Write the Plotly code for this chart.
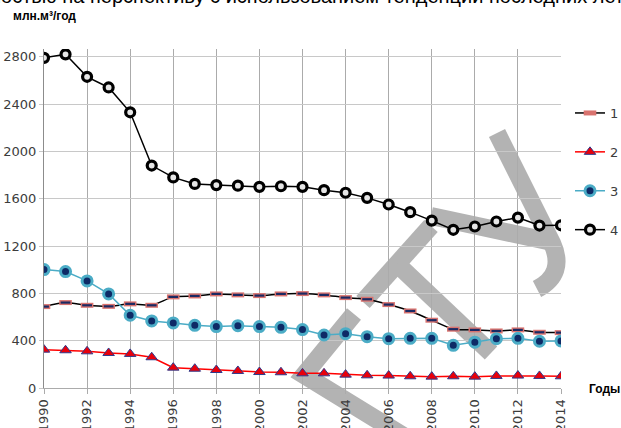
import plotly.graph_objects as go

# Годы наблюдений
years = list(range(1990, 2015))

# Ряды, млн.м³/год
s1 = [688, 722, 699, 690, 711, 699, 770, 778, 795, 787, 781, 795, 798,
      787, 764, 750, 705, 651, 573, 497, 491, 482, 491, 471, 468]
s2 = [324, 319, 310, 296, 288, 260, 172, 163, 152, 144, 135, 133, 124,
      124, 113, 107, 105, 99, 96, 99, 96, 102, 105, 102, 99]
s3 = [1001, 984, 905, 795, 615, 567, 550, 530, 519, 527, 519, 513, 494,
      448, 459, 434, 417, 420, 420, 361, 387, 417, 420, 395, 398]
s4 = [2790, 2820, 2630, 2540, 2330, 1880, 1780, 1725, 1715, 1710, 1700,
      1705, 1700, 1672, 1650, 1607, 1551, 1486, 1415, 1337, 1365, 1407,
      1440, 1373, 1375]

series_names = ["1", "2", "3", "4"]
y_ticks = [0, 400, 800, 1200, 1600, 2000, 2400, 2800]

# plot area in page pixels
L, R, T, B = 44, 561, 49, 388
W, H = 621, 428


def paper(x, y):
    return (x - L) / (R - L), (B - y) / (B - T)


TICK_FONT = dict(family="DejaVu Sans", size=13, color="#3c3c3c")

fig = go.Figure()

# 1: smoothed black line, small rectangular markers
fig.add_trace(go.Scatter(
    x=years, y=s1, name=series_names[0], mode="lines+markers",
    legendgroup="g1",
    line=dict(color="#000000", width=1.5, shape="spline", smoothing=0.6),
    marker=dict(symbol="line-ew", size=9,
                line=dict(color="#d9736f", width=5)),
))
fig.add_trace(go.Scatter(
    x=years, y=s1, mode="markers", showlegend=False, legendgroup="g1",
    marker=dict(symbol="line-ew", size=7,
                line=dict(color="#1b2a63", width=2.2)),
    hoverinfo="skip",
))

# 2: red line with triangles
fig.add_trace(go.Scatter(
    x=years, y=s2, name=series_names[1], mode="lines+markers",
    legendgroup="g2",
    line=dict(color="#ff0000", width=1.5),
    marker=dict(symbol="triangle-up", size=10, color="#e8000b",
                line=dict(color="#2e3a8c", width=1)),
))

# 3: teal line with navy dots
fig.add_trace(go.Scatter(
    x=years, y=s3, name=series_names[2], mode="lines+markers",
    legendgroup="g3",
    line=dict(color="#4bacc6", width=1.5),
    marker=dict(symbol="circle", size=10, color="#0e2a66",
                line=dict(color="#4bacc6", width=3)),
))

# 4: black line with ring markers
fig.add_trace(go.Scatter(
    x=years, y=s4, name=series_names[3], mode="lines+markers",
    legendgroup="g4",
    line=dict(color="#000000", width=1.5),
    marker=dict(symbol="circle", size=9, color="#e6e6e6",
                line=dict(color="#000000", width=3.2)),
))

# gray lettering drawn between the grid and the data
WM = "#b3b3b3"
WM_W = 18


def seg(p, q):
    x0, y0 = paper(*p)
    x1, y1 = paper(*q)
    return dict(type="line", xref="paper", yref="paper", x0=x0, y0=y0,
                x1=x1, y1=y1, layer="between",
                line=dict(color=WM, width=WM_W))


def path(cmds):
    out = []
    for c, pts in cmds:
        coords = " ".join("%.5f,%.5f" % paper(*p) for p in pts)
        out.append(c + " " + coords)
    return dict(type="path", xref="paper", yref="paper", path=" ".join(out),
                layer="between", line=dict(color=WM, width=WM_W))


shapes = [
    # Г
    path([("M", [(354, 314)]), ("L", [(304, 375)]), ("L", [(410, 440)])]),
    # Т
    seg((363, 302), (431, 226)),
    seg((397, 264), (491, 353)),
    # У
    seg((431, 216), (552, 242)),
    path([("M", [(497, 133)]), ("L", [(552, 243)]),
          ("Q", [(566, 274), (537, 289)])]),
]

annotations = [
    dict(text="…ностью на перспективу с использованием тенденции последних лет",
         xref="paper", yref="paper", x=paper(626, 0)[0], y=paper(0, -4)[1],
         xanchor="right", yanchor="middle", showarrow=False,
         font=dict(family="Liberation Sans", size=20, color="#000000")),
    dict(text="<b>млн.м³/год</b>", xref="paper", yref="paper",
         x=paper(11, 0)[0], y=paper(0, 16)[1], xanchor="left",
         yanchor="middle", showarrow=False,
         font=dict(family="Liberation Sans", size=12, color="#000000")),
    dict(text="<b>Годы</b>", xref="paper", yref="paper",
         x=paper(587, 0)[0], y=paper(0, 389)[1], xanchor="left",
         yanchor="middle", showarrow=False,
         font=dict(family="Liberation Sans", size=12, color="#000000")),
]

fig.update_layout(
    width=W, height=H,
    margin=dict(l=L, r=W - R, t=T, b=H - B, pad=0, autoexpand=False),
    paper_bgcolor="#ffffff", plot_bgcolor="#ffffff",
    showlegend=True,
    legend=dict(x=paper(570, 0)[0], y=paper(0, 98)[1], xanchor="left",
                yanchor="top", font=TICK_FONT, tracegroupgap=19,
                bgcolor="rgba(0,0,0,0)", itemwidth=30),
    shapes=shapes,
    annotations=annotations,
    xaxis=dict(range=[1990, 2014], tickmode="array",
               tickvals=list(range(1990, 2015, 2)), tickangle=-90,
               tickfont=TICK_FONT, showgrid=True, gridcolor="#ababab",
               gridwidth=1, ticks="outside", ticklen=5, tickcolor="#ababab",
               zeroline=False, showline=True, linecolor="#ababab",
               mirror=False, automargin=False),
    yaxis=dict(range=[0, 2865], tickmode="array", tickvals=y_ticks,
               tickfont=TICK_FONT, showgrid=True, gridcolor="#c8c8c8",
               gridwidth=1.2, ticks="outside", ticklen=4,
               tickcolor="#c8c8c8", zeroline=False, showline=True,
               linecolor="#8c8c8c", automargin=False),
)

fig.write_html("out.html")
